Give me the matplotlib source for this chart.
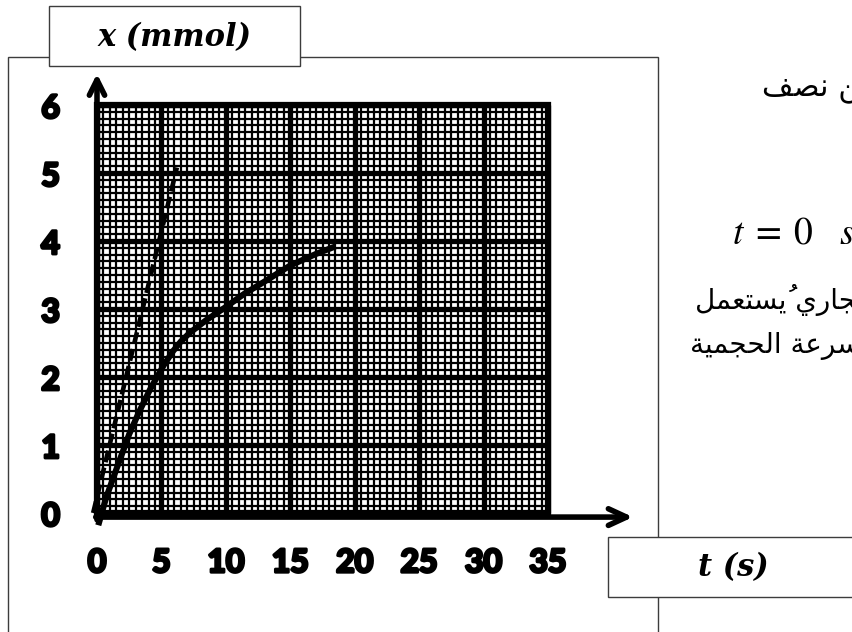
import numpy as np
import matplotlib
matplotlib.use("Agg")
import matplotlib.pyplot as plt
import matplotlib.patheffects as pe
from matplotlib.patches import Rectangle


W, H = 852, 632

# axis ticks
t_ticks = [0, 5, 10, 15, 20, 25, 30, 35]
x_ticks = [0, 1, 2, 3, 4, 5, 6]

# x(t) curve
t_curve = [0.1, 0.7, 1.4, 2.5, 3.3, 4.1, 4.6, 5.2, 5.9, 6.5, 7.2, 8.5, 10.0, 11.4, 12.8, 15.0, 17.0, 18.5]
x_curve = [-0.18, 0.22, 0.59, 1.16, 1.50, 1.81, 1.98, 2.18, 2.38, 2.52, 2.65, 2.84, 3.03, 3.22, 3.38, 3.64, 3.81, 3.92]

# tangent at t = 0 (dashed)
t_tangent = [-0.3, 6.2]
x_tangent = [0.0, 5.08]

# partial text lines on the right (logical order)
ar_line1 = "زمن نصف"
ar_line3 = "تجاري يُستعمل"
ar_line4 = "السرعة الحجمية"

# isolated, final, initial, medial
FORMS = {
    "ا": ("\uFE8D", "\uFE8E", None, None),
    "ة": ("\uFE93", "\uFE94", None, None),
    "ت": ("\uFE95", "\uFE96", "\uFE97", "\uFE98"),
    "ج": ("\uFE9D", "\uFE9E", "\uFE9F", "\uFEA0"),
    "ح": ("\uFEA1", "\uFEA2", "\uFEA3", "\uFEA4"),
    "ر": ("\uFEAD", "\uFEAE", None, None),
    "ز": ("\uFEAF", "\uFEB0", None, None),
    "س": ("\uFEB1", "\uFEB2", "\uFEB3", "\uFEB4"),
    "ص": ("\uFEB9", "\uFEBA", "\uFEBB", "\uFEBC"),
    "ع": ("\uFEC9", "\uFECA", "\uFECB", "\uFECC"),
    "ف": ("\uFED1", "\uFED2", "\uFED3", "\uFED4"),
    "ل": ("\uFEDD", "\uFEDE", "\uFEDF", "\uFEE0"),
    "م": ("\uFEE1", "\uFEE2", "\uFEE3", "\uFEE4"),
    "ن": ("\uFEE5", "\uFEE6", "\uFEE7", "\uFEE8"),
    "ي": ("\uFEF1", "\uFEF2", "\uFEF3", "\uFEF4"),
}
MARKS = {"\u064F"}


def shape_arabic(text):
    # group base letters with their marks
    clusters = []
    for ch in text:
        if ch in MARKS and clusters:
            clusters[-1][1] += ch
        else:
            clusters.append([ch, ""])
    out = []
    for i, (ch, marks) in enumerate(clusters):
        if ch not in FORMS:
            out.append(ch + marks)
            continue
        prev = clusters[i - 1][0] if i > 0 else None
        nxt = clusters[i + 1][0] if i + 1 < len(clusters) else None
        join_prev = prev in FORMS and FORMS[prev][2] is not None
        join_next = nxt in FORMS and FORMS[ch][2] is not None
        iso, fin, ini, med = FORMS[ch]
        if join_prev and join_next:
            g = med
        elif join_prev:
            g = fin
        elif join_next:
            g = ini
        else:
            g = iso
        out.append(g + marks)
    # visual order, marks stay after their base
    return "".join(out[::-1])


def px_rect(ax, x0, y0, x1, y1, **kw):
    r = Rectangle((x0 / W, 1 - y1 / H), (x1 - x0) / W, (y1 - y0) / H,
                  transform=ax.figure.transFigure, clip_on=False, **kw)
    ax.add_patch(r)


def px_text(ax, x, y, s, **kw):
    ax.text(x / W, 1 - y / H, s, transform=ax.figure.transFigure, **kw)


plt.rcParams["mathtext.fontset"] = "stix"

fig = plt.figure(figsize=(W / 100, H / 100), dpi=100)
ax = fig.add_axes([0, 0, 1, 1])

# data -> pixel mapping of the grid (t=0 at 97 px, t=35 at 548 px; x=0 at 513 px, 68 px per unit)
px_t = (548 - 97) / 35
px_x = 68.0
ax.set_xlim(-97 / px_t, (W - 97) / px_t)
ax.set_ylim(-(H - 513) / px_x, 513 / px_x)
ax.axis("off")

# outer boxes
px_rect(ax, 8, 57, 658, 660, fill=False, edgecolor="#3c3c3c", lw=1.0, zorder=1)
px_rect(ax, 49, 6, 300, 66, facecolor="white", edgecolor="#3c3c3c", lw=1.0, zorder=2)
px_rect(ax, 608, 537, 880, 597, facecolor="white", edgecolor="#3c3c3c", lw=1.0, zorder=2)

# graph paper
t_max, x_max = t_ticks[-1], x_ticks[-1]
minor_t = np.arange(0, t_max + 0.01, 0.5)
minor_x = np.arange(0, x_max + 0.001, 0.1)
ax.vlines(minor_t, 0, x_max, color="black", lw=1.6, zorder=3)
ax.hlines(minor_x, 0, t_max, color="black", lw=1.6, zorder=3)
ax.vlines(t_ticks, 0, x_max, color="black", lw=3.8, zorder=4)
ax.hlines(x_ticks, 0, t_max, color="black", lw=3.8, zorder=4)
ax.add_patch(Rectangle((0, 0), t_max, x_max, fill=False, edgecolor="black", lw=4.5, zorder=4))

# axes arrows
ax.annotate("", xy=(0, 6.46), xytext=(0, -0.1),
            arrowprops=dict(arrowstyle="->,head_length=1.1,head_width=0.55", lw=4, color="black",
                            shrinkA=0, shrinkB=0), zorder=5)
ax.annotate("", xy=(41.6, -0.06), xytext=(-0.1, -0.06),
            arrowprops=dict(arrowstyle="->,head_length=1.3,head_width=0.6", lw=4, color="black",
                            shrinkA=0, shrinkB=0), zorder=5)

# curves
ax.plot(t_curve, x_curve, color="black", lw=4.4, solid_capstyle="butt", solid_joinstyle="round", zorder=6)
ax.plot(t_tangent, x_tangent, color="black", lw=3.3, dashes=(2.6, 1.2), zorder=6)

# tick labels
heavy = [pe.withStroke(linewidth=2.2, foreground="black")]
tick_font = dict(family=["Lato", "DejaVu Sans"], fontweight="bold", fontsize=23, color="black",
                 path_effects=heavy)
for v in x_ticks:
    ax.text(-3.6, v - 0.05, str(v), ha="center", va="center", **tick_font)
for v in t_ticks:
    ax.text(v, -0.73, str(v), ha="center", va="center", **tick_font)

# axis titles in boxes
px_text(ax, 175, 38, "x (mmol)", ha="center", va="center", fontsize=22,
        family="DejaVu Serif", fontstyle="italic", fontweight="bold", zorder=7)
px_text(ax, 733, 568, "t (s)", ha="center", va="center", fontsize=22,
        family="DejaVu Serif", fontstyle="italic", fontweight="bold", zorder=7)

# right-hand text, running off the page
ar_font = dict(family="DejaVu Sans", color="black", ha="left", va="center", zorder=7)
px_text(ax, 762, 90, shape_arabic(ar_line1), fontsize=22, **ar_font)
px_text(ax, 695, 300, shape_arabic(ar_line3), fontsize=20, **ar_font)
px_text(ax, 690, 346, shape_arabic(ar_line4), fontsize=20, **ar_font)
px_text(ax, 732, 233, r"$t\;=\;0\ \ \ s$", fontsize=27, ha="left", va="center", zorder=7)

fig.savefig("out.png", dpi=100)
plt.close(fig)
